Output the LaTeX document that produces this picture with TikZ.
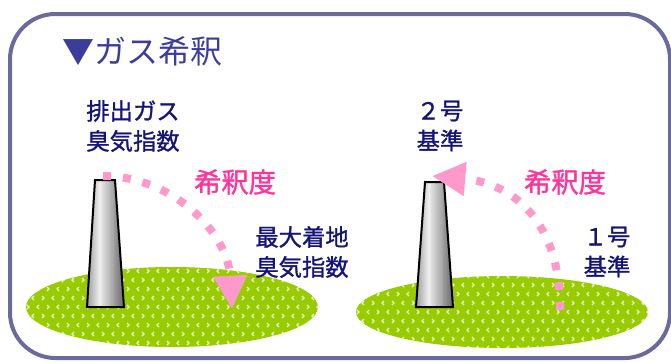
\documentclass[tikz,border=0pt]{standalone}
\usepackage{fontspec}
\newfontfamily\jpfont{Noto Sans CJK JP}
\newfontfamily\jplabelfont[FakeBold=1.2]{Noto Sans CJK JP}
\usepackage{tikz}
\usetikzlibrary{arrows.meta, calc, positioning}

\definecolor{framecol}{HTML}{6A6A9C}
\definecolor{titlecol}{HTML}{3C3C9A}
\definecolor{labelcol}{HTML}{14147A}
\definecolor{dilcol}{HTML}{FF3399}
\definecolor{arccol}{HTML}{FF99CC}
\definecolor{groundcol}{HTML}{99CC00}

\begin{document}
\begin{tikzpicture}[x=0.75pt, y=-0.75pt, font=\jpfont]
\tikzset{every node/.style={inner sep=0pt, outer sep=0pt}}

\tikzstyle{frame}=[draw=framecol, line width=3pt, rounded corners=34pt]
\tikzstyle{title}=[anchor=west, text=titlecol, font=\jpfont\fontsize{24pt}{26pt}\selectfont]
\tikzstyle{label}=[align=center, text=labelcol, font=\jplabelfont\fontsize{17.5pt}{22.5pt}\selectfont]
\tikzstyle{dilution}=[text=dilcol, font=\jplabelfont\fontsize{20.5pt}{24pt}\selectfont]
\tikzstyle{ground}=[fill=groundcol]
\tikzstyle{stack}=[draw=black, line width=1.5pt]
\tikzstyle{spread}=[draw=arccol, line width=6pt, dash pattern=on 6pt off 9pt, -{Triangle[width=24pt, length=25pt]}]

\useasboundingbox (0,0) rectangle (671,362);
\fill[white] (0,0) rectangle (671,362);

\draw[frame] (10,14) rectangle (670,358);

\node[title] (heading) at (62,51) {▼ガス希釈};

% ground patches
\foreach \cx/\cy/\ry in {172/307/40, 502/312/36} {
    \begin{scope}
        \clip (\cx,\cy) ellipse (146 and \ry);
        \fill[ground] (\cx,\cy) ellipse (146 and \ry);
        \foreach \r in {0,...,10} {
            \foreach \c in {0,...,30} {
                \pgfmathsetmacro{\px}{\cx-150+\c*10+mod(\r,2)*5}
                \pgfmathsetmacro{\py}{\cy-45+\r*9}
                \ifodd\c
                    \draw[white, line width=0.9pt, opacity=0.8] (\px+2,\py-2) -- (\px,\py) -- (\px+2,\py+2);
                \else
                    \draw[white, line width=0.9pt, opacity=0.8] (\px,\py-2) -- (\px+2,\py) -- (\px,\py+2);
                \fi
            }
        }
    \end{scope}
}

% stacks, shaded in thin strips
\foreach \ltop/\rtop/\lbot/\rbot/\ytop in {95/115/87/124/180, 425/444/416/453/182} {
    \begin{scope}
        \clip (\ltop,\ytop) -- (\rtop,\ytop) -- (\rbot,307) -- (\lbot,307) -- cycle;
        \foreach \i in {0,...,39} {
            \pgfmathsetmacro{\t}{(\i+0.5)/40}
            \pgfmathsetmacro{\shadeval}{\t<0.35 ? 42-36*\t/0.35 : 6+52*(\t-0.35)/0.65}
            \pgfmathsetmacro{\xa}{\lbot+\i*(\rbot-\lbot)/40-0.3}
            \pgfmathsetmacro{\xb}{\lbot+(\i+1)*(\rbot-\lbot)/40+0.3}
            \fill[black!\shadeval] (\xa,\ytop) rectangle (\xb,307);
        }
    \end{scope}
    \draw[stack] (\ltop,\ytop) -- (\rtop,\ytop) -- (\rbot,307) -- (\lbot,307) -- cycle;
}

\coordinate (left stack top) at (103,176);
\coordinate (max ground point) at (232,309);
\coordinate (right ground point) at (560,310);
\coordinate (right stack top) at (432,176);

\path[spread] (left stack top) .. controls (172,176) and (228,232) .. (max ground point);
\path[spread] (right ground point) .. controls (561,232) and (522,184) .. (right stack top);

\node[label] (exhaust label) at (133,126) {排出ガス\\臭気指数};
\node[label] (class two label) at (440,126) {２号\\基準};
\node[label] (ground label) at (302,252) {最大着地\\臭気指数};
\node[label] (class one label) at (607,252) {１号\\基準};

\node[dilution] (left dilution) at (235,182) {希釈度};
\node[dilution] (right dilution) at (565,182) {希釈度};

\end{tikzpicture}
\end{document}
